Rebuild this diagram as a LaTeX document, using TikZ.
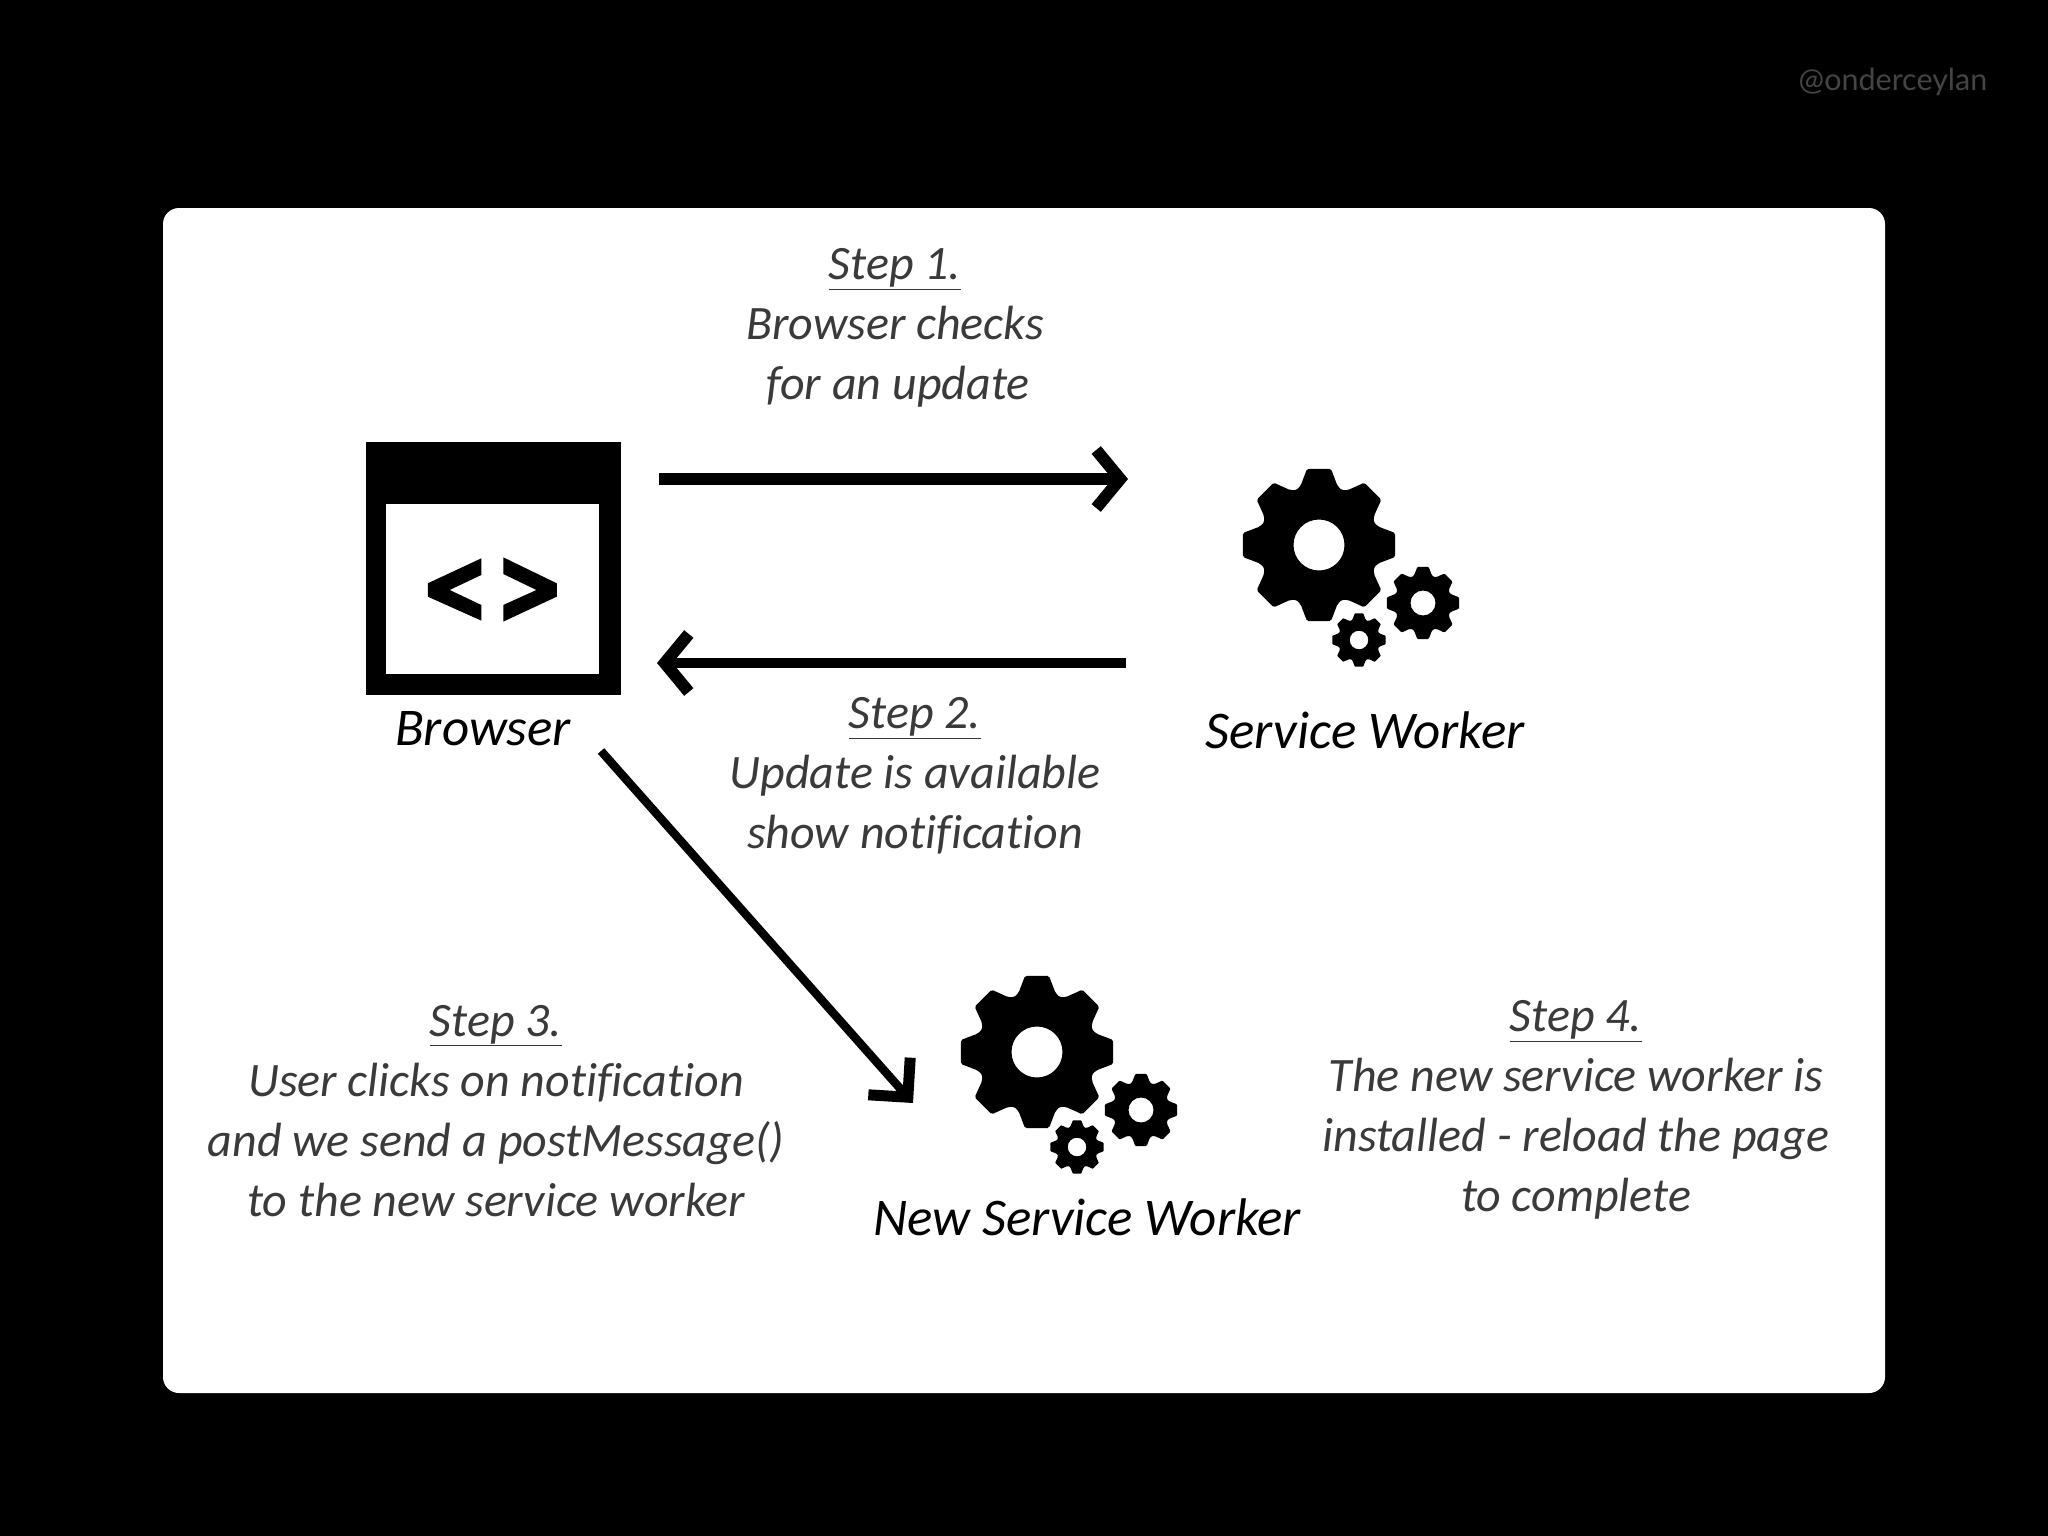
\documentclass[tikz,border=0pt]{standalone}
\usepackage{fontspec}
\setmainfont{Carlito}[Ligatures=NoCommon]
\newfontfamily\markfont{Lato}
\usetikzlibrary{arrows.meta}
\definecolor{steptext}{HTML}{3A3A3A}
\definecolor{marktext}{HTML}{444444}
\newcommand{\geartooth}[3]{% radius, corner scale, hole
  \fill[even odd rule,rounded corners=#2*1.6pt]
    (90-9:#1)
    \foreach \a in {0,45,...,315}{
      -- (\a+90-9:#1) -- (\a+90+9:#1)
      -- (\a+90+17:#1*0.81) -- (\a+90+22.5:#1*0.77) -- (\a+90+28:#1*0.81)
    } -- cycle
    (0,0) circle[radius=#3];
}
\newcommand{\gearset}[2]{%
  \begin{scope}[shift={(#1,#2)}]
    \geartooth{77}{1}{25.5}
    \begin{scope}[shift={(104,58)}]\geartooth{36.5}{0.6}{12.5}\end{scope}
    \begin{scope}[shift={(40,95)}]\geartooth{27}{0.4}{9.3}\end{scope}
  \end{scope}
}
\tikzset{
  x=1pt,y=-1pt,
  stepnote/.style={align=center,inner sep=0pt,text=steptext,font=\fontsize{48}{60}\selectfont\itshape},
  label/.style={inner sep=0pt,text=black,font=\fontsize{53}{60}\selectfont\itshape},
  flowtop/.style={line width=11.5pt,-{Straight Barb[length=24pt,width=58pt,line width=12pt]}},
  flowback/.style={line width=9.5pt,-{Straight Barb[length=24pt,width=58pt,line width=12pt]}},
  flowdown/.style={line width=8.5pt,-{Straight Barb[length=28pt,width=56pt,line width=11pt]}},
}
\begin{document}
\begin{tikzpicture}
\useasboundingbox (0,0) rectangle (2048,1536);
\fill[black] (0,0) rectangle (2048,1536);
\fill[white,rounded corners=16pt] (163,208) rectangle (1885,1393);
\node[anchor=center,inner sep=0pt,text=marktext,font=\markfont\fontsize{30.5}{36}\selectfont] (mark) at (1893,82) {@onderceylan};

% browser icon
\node[fill=black,minimum width=255pt,minimum height=253pt,inner sep=0pt] (browser) at (493,568.5) {};
\node[fill=white,minimum width=213pt,minimum height=170pt,inner sep=0pt] (pane) at (492.5,589) {};
\begin{scope}[shift={(340,420)},xscale=0.5102,yscale=0.3333]
  \fill (277,415) -- (172,490) -- (172,530) -- (277,602) -- (277,555) -- (215,510) -- (277,465) -- cycle;
  \fill (320,412) -- (425,490) -- (425,530) -- (320,605) -- (320,555) -- (385,510) -- (320,462) -- cycle;
\end{scope}

\gearset{1319}{545}
\gearset{1037}{1052}

\node[label] (browserlabel) at (483,729) {Browser};
\node[label] (swlabel) at (1365,730) {Service Worker};
\node[label] (nswlabel) at (1087,1217) {New Service Worker};

\node[stepnote] (step1) at (895,328) {\underline{Step 1.}\\Browser checks\\\hspace*{6pt}for an update};
\node[stepnote] (step2) at (915,776) {\underline{Step 2.}\\Update is available\\show notification};
\node[stepnote] (step3) at (496,1111) {\underline{Step 3.}\\User clicks on notification\\and we send a postMessage()\\to the new service worker};
\node[stepnote] (step4) at (1576,1110) {\underline{Step 4.}\\The new service worker is\\installed - reload the page\\to complete};

\coordinate (a1s) at (659,479);
\coordinate (a1e) at (1128,479);
\coordinate (a2s) at (1126,663);
\coordinate (a2e) at (657,663);
\coordinate (a3s) at (601,751);
\coordinate (a3e) at (913,1103);
\draw[flowtop] (a1s) -- (a1e);
\draw[flowback] (a2s) -- (a2e);
\draw[flowdown] (a3s) -- (a3e);
\end{tikzpicture}
\end{document}
